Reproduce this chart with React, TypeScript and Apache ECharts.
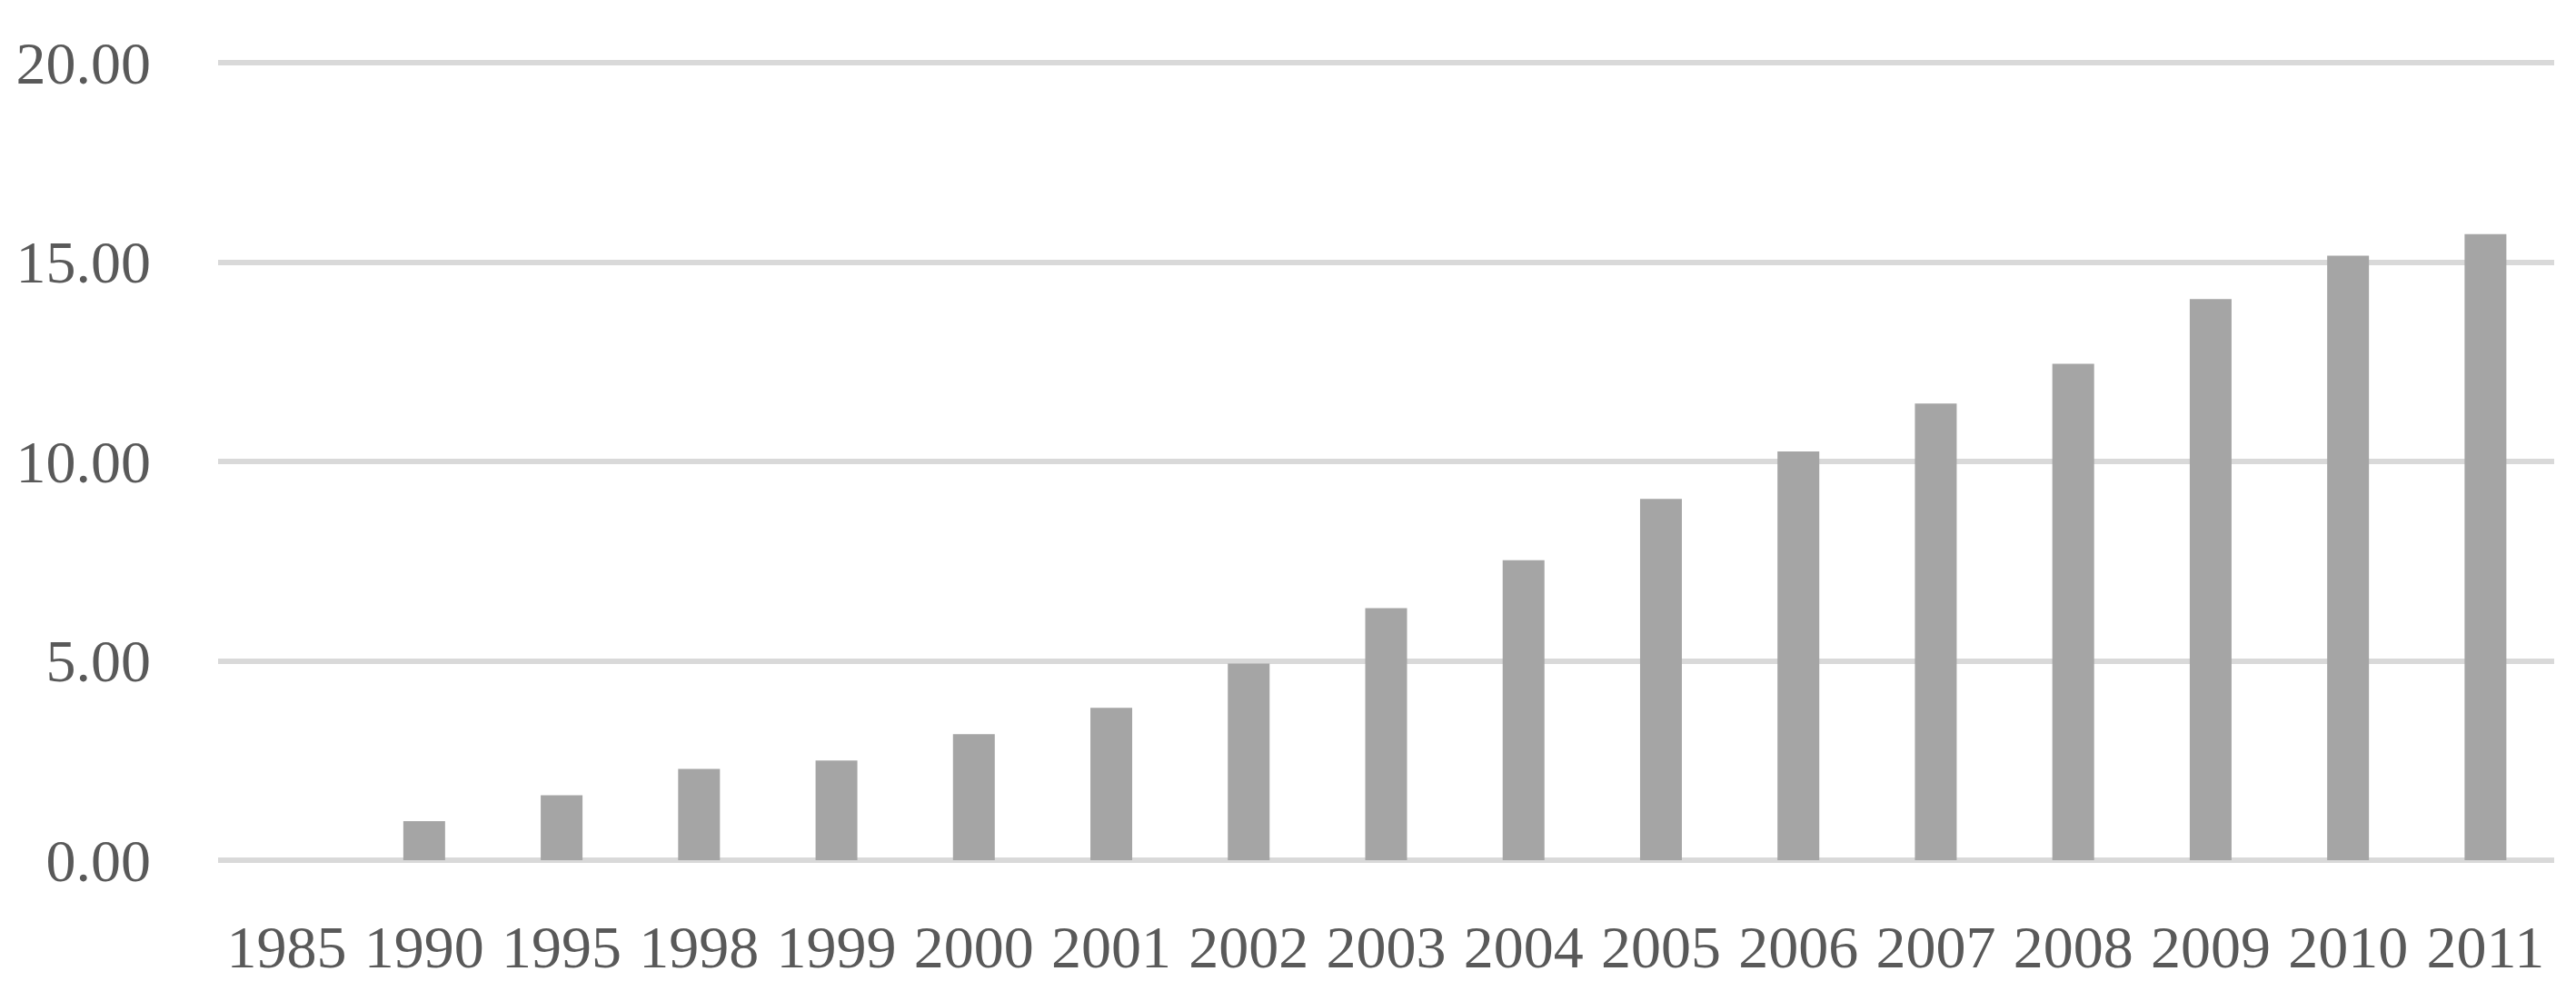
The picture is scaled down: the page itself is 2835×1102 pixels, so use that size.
import React, { useEffect, useRef } from "react";
import * as echarts from "echarts";

const categories = ["1985", "1990", "1995", "1998", "1999", "2000", "2001", "2002", "2003", "2004", "2005", "2006", "2007", "2008", "2009", "2010", "2011"];
const values = [0, 0.98, 1.63, 2.29, 2.5, 3.16, 3.82, 4.93, 6.32, 7.52, 9.06, 10.25, 11.45, 12.45, 14.07, 15.16, 15.7];
const yMin = 0;
const yMax = 20;
const yInterval = 5;

export default function App() {
  const ref = useRef<HTMLDivElement>(null);
  useEffect(() => {
    if (!ref.current) return;
    const chart = echarts.init(ref.current, undefined, { renderer: "svg" });
    const font = "'Liberation Serif', 'Times New Roman', serif";
    chart.setOption({
      animation: false,
      backgroundColor: "#ffffff",
      grid: { left: 240, right: 24, top: 69, bottom: 155, containLabel: false },
      xAxis: {
        type: "category",
        data: categories,
        axisLine: { show: false },
        axisTick: { show: false },
        axisLabel: { color: "#595959", fontFamily: font, fontSize: 66, margin: 62, interval: 0 },
      },
      yAxis: {
        type: "value",
        min: yMin,
        max: yMax,
        interval: yInterval,
        axisLine: { show: false },
        axisTick: { show: false },
        axisLabel: {
          color: "#595959",
          fontFamily: font,
          fontSize: 66,
          margin: 74,
          formatter: (v: number) => v.toFixed(2),
        },
        splitLine: { lineStyle: { color: "#d9d9d9", width: 6 } },
      },
      series: [
        {
          type: "bar",
          data: values,
          barWidth: 46,
          itemStyle: { color: "#a5a5a5" },
        },
      ],
    });
    return () => chart.dispose();
  }, []);
  return <div ref={ref} style={{ position: "fixed", left: 0, top: 0, width: 2835, height: 1102 }} />;
}
